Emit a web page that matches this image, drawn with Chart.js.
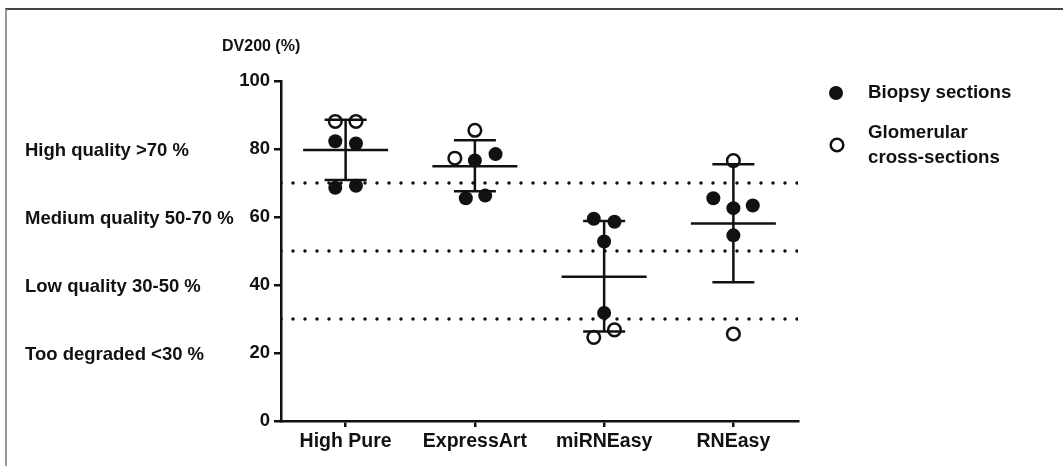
<!DOCTYPE html>
<html>
<head>
<meta charset="utf-8">
<script src="https://cdn.jsdelivr.net/npm/chart.js@4.4.1/dist/chart.umd.min.js"></script>
<style>
  html, body { margin: 0; padding: 0; background: #fff; }
  #wrap { position: relative; width: 1063px; height: 466px; overflow: hidden; }
  #frame { position: absolute; left: 5px; top: 8px; right: 0; bottom: 0;
           border-top: 2px solid #444; border-left: 2px solid #999; }
  #graphCanvas { position: absolute; left: 0; top: 0; }
</style>
</head>
<body>
<div id="wrap">
  <div id="frame"></div>
  <canvas id="graphCanvas" width="1063" height="466"></canvas>
</div>
<script>
// categorías del eje x
const categories = ['High Pure', 'ExpressArt', 'miRNEasy', 'RNEasy'];

// secciones de biopsia (puntos rellenos)
const biopsyCat    = [0, 0, 0, 0, 1, 1, 1, 1, 2, 2, 2, 2, 3, 3, 3, 3];
const biopsyJitter = [-0.08, 0.08, -0.08, 0.08, 0, 0.16, -0.07, 0.08, -0.08, 0.08, 0, 0, -0.155, 0, 0.15, 0];
const biopsyValues = [82.3, 81.6, 68.6, 69.2, 76.6, 78.5, 65.5, 66.3, 59.5, 58.6, 52.8, 31.8, 65.5, 62.6, 63.4, 54.6];

// cortes glomerulares (puntos vacíos)
const glomCat    = [0, 0, 1, 1, 2, 2, 3, 3];
const glomJitter = [-0.08, 0.08, 0, -0.155, -0.08, 0.08, 0, 0];
const glomValues = [88.1, 88.1, 85.5, 77.3, 24.6, 26.8, 76.6, 25.6];

// media y desviación estándar
const means  = [79.7, 74.9, 42.4, 58.1];
const sdLow  = [70.9, 67.6, 26.3, 40.8];
const sdHigh = [88.6, 82.6, 58.8, 75.5];

// umbrales de calidad
const thresholds = [70, 50, 30];
const qualityLabels = ['High quality >70 %', 'Medium quality 50-70 %', 'Low quality 30-50 %', 'Too degraded <30 %'];
const qualityAt = [80, 60, 40, 20];

const yTicks = [0, 20, 40, 60, 80, 100];

const FONT = "'Liberation Sans', Arial, sans-serif";
const INK = '#111';

const toPoints = (cats, jit, vals) => vals.map((v, i) => ({ x: cats[i] + jit[i], y: v }));

// barras de error: segmentos verticales separados por huecos
const errorData = [];
categories.forEach((c, i) => {
    errorData.push({ x: i, y: sdLow[i] }, { x: i, y: sdHigh[i] }, { x: i, y: null });
});

const thresholdSets = thresholds.map(t => ({
    label: 'threshold ' + t,
    data: [{ x: -0.5, y: t }, { x: 3.5, y: t }],
    showLine: true,
    borderColor: INK,
    borderWidth: 3.5,
    borderDash: [0, 12],
    borderCapStyle: 'round',
    pointRadius: 0,
    order: 5
}));

const annotations = {
    id: 'annotations',
    afterDraw(chart) {
        const ctx = chart.ctx;
        const y = chart.scales.y;
        ctx.save();
        ctx.fillStyle = INK;
        ctx.textBaseline = 'middle';
        ctx.textAlign = 'left';

        // título del eje
        ctx.font = 'bold 16px ' + FONT;
        ctx.fillText('DV200 (%)', 222, 47);

        // etiquetas de calidad
        ctx.font = 'bold 18.5px ' + FONT;
        qualityLabels.forEach((t, i) => {
            ctx.fillText(t, 25, y.getPixelForValue(qualityAt[i]) + 2);
        });

        // leyenda
        ctx.font = 'bold 18.7px ' + FONT;
        ctx.beginPath();
        ctx.arc(836, 93, 7, 0, Math.PI * 2);
        ctx.fill();
        ctx.fillText('Biopsy sections', 868, 93);

        ctx.beginPath();
        ctx.lineWidth = 2.5;
        ctx.strokeStyle = INK;
        ctx.arc(837, 145, 6.3, 0, Math.PI * 2);
        ctx.stroke();
        ctx.fillText('Glomerular', 868, 133);
        ctx.fillText('cross-sections', 868, 158);
        ctx.restore();
    }
};

const ctx = document.getElementById('graphCanvas').getContext('2d');
window.myChart = new Chart(ctx, {
    type: 'scatter',
    data: {
        datasets: [
            {
                label: 'Biopsy sections',
                data: toPoints(biopsyCat, biopsyJitter, biopsyValues),
                backgroundColor: INK,
                borderColor: INK,
                pointRadius: 7,
                pointBorderWidth: 0,
                order: 0
            },
            {
                label: 'Glomerular cross-sections',
                data: toPoints(glomCat, glomJitter, glomValues),
                backgroundColor: 'rgba(0,0,0,0)',
                borderColor: INK,
                pointRadius: 6.3,
                pointBorderWidth: 2.5,
                order: 1
            },
            {
                label: 'Mean',
                data: means.map((m, i) => ({ x: i, y: m })),
                pointStyle: 'line',
                pointRadius: 42.5,
                pointBorderWidth: 2.5,
                borderColor: INK,
                order: 2
            },
            {
                label: 'SD',
                data: errorData,
                showLine: true,
                spanGaps: false,
                borderColor: INK,
                borderWidth: 2.5,
                pointStyle: 'line',
                pointRadius: 21,
                pointBorderWidth: 2.5,
                order: 3
            },
            ...thresholdSets
        ]
    },
    options: {
        responsive: false,
        animation: false,
        events: [],
        layout: { padding: { left: 0, right: 265, top: 81, bottom: 0 } },
        plugins: {
            legend: { display: false },
            tooltip: { enabled: false }
        },
        scales: {
            x: {
                type: 'linear',
                min: -0.5,
                max: 3.5,
                afterFit: s => { s.height = 39; },
                afterBuildTicks: s => { s.ticks = categories.map((c, i) => ({ value: i })); },
                border: { display: true, color: INK, width: 2.5 },
                grid: { drawOnChartArea: false, drawTicks: true, tickLength: 6, color: INK, lineWidth: 2.5 },
                ticks: {
                    color: INK,
                    font: { family: FONT, size: 19.5, weight: 'bold' },
                    padding: 3,
                    maxRotation: 0,
                    callback: v => categories[v]
                }
            },
            y: {
                min: 0,
                max: 100,
                afterFit: s => { s.width = 281; },
                afterBuildTicks: s => { s.ticks = yTicks.map(v => ({ value: v })); },
                border: { display: true, color: INK, width: 2.5 },
                grid: { drawOnChartArea: false, drawTicks: true, tickLength: 7, color: INK, lineWidth: 2.5 },
                ticks: {
                    color: INK,
                    font: { family: FONT, size: 18.5, weight: 'bold' },
                    padding: 4
                }
            }
        }
    },
    plugins: [annotations]
});
</script>
</body>
</html>
